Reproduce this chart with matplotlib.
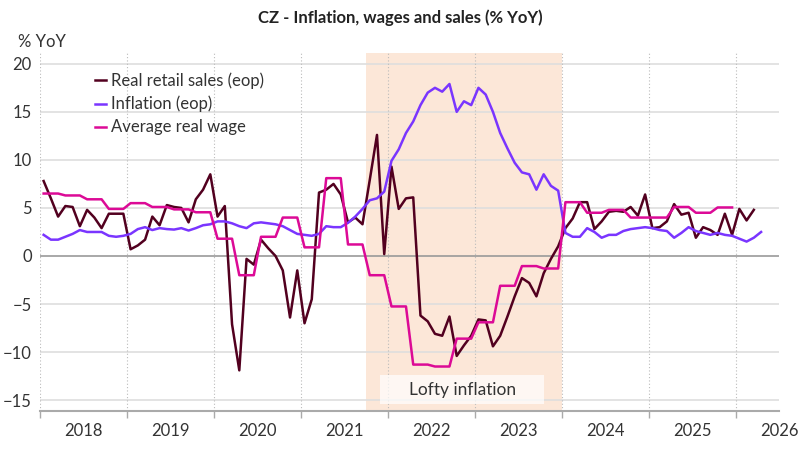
import matplotlib
matplotlib.use('Agg')
import matplotlib.pyplot as plt
from matplotlib.patches import Rectangle
import numpy as np

plt.rcParams['font.family'] = ['Lato', 'DejaVu Sans']

# monthly data, Jan 2018 onwards (% YoY)
retail_sales = [
    7.8, 6.0, 4.1, 5.2, 5.1, 3.1, 4.8, 4.0, 2.9, 4.4, 4.4, 4.4,          # 2018
    0.7, 1.1, 1.7, 4.1, 3.2, 5.3, 5.1, 5.0, 3.5, 5.9, 6.9, 8.5,          # 2019
    4.1, 5.2, -7.1, -11.9, -0.3, -0.9, 1.7, 0.8, 0.0, -1.5, -6.4, -1.5,  # 2020
    -7.0, -4.5, 6.6, 6.9, 7.5, 6.4, 3.5, 4.0, 3.3, 7.9, 12.6, 0.2,       # 2021
    9.3, 4.9, 6.0, 6.1, -6.2, -6.8, -8.1, -8.3, -6.3, -10.4, -9.3, -8.3,  # 2022
    -6.6, -6.7, -9.4, -8.3, -6.3, -4.2, -2.3, -2.8, -4.2, -1.8, -0.3, 1.0,  # 2023
    2.9, 3.9, 5.6, 5.6, 2.8, 3.6, 4.6, 4.7, 4.6, 5.1, 4.2, 6.4,          # 2024
    2.9, 3.0, 3.6, 5.4, 4.3, 4.5, 1.9, 3.0, 2.7, 2.2, 4.4, 2.2,          # 2025
    4.9, 3.7, 4.8,                                                       # 2026
]
inflation = [
    2.2, 1.7, 1.7, 2.0, 2.3, 2.7, 2.5, 2.5, 2.5, 2.1, 2.0, 2.1,
    2.3, 2.8, 3.0, 2.7, 2.9, 2.8, 2.75, 2.9, 2.65, 2.9, 3.2, 3.3,
    3.6, 3.6, 3.4, 3.1, 2.9, 3.4, 3.5, 3.4, 3.3, 3.1, 2.7, 2.3,
    2.2, 2.1, 2.3, 3.1, 3.0, 3.0, 3.45, 4.1, 4.9, 5.8, 6.0, 6.7,
    9.9, 11.1, 12.8, 14.0, 15.7, 17.0, 17.5, 17.1, 17.9, 15.0, 16.1, 15.7,
    17.5, 16.8, 15.0, 12.8, 11.2, 9.7, 8.7, 8.5, 6.9, 8.5, 7.3, 6.8,
    2.4, 2.0, 2.0, 2.9, 2.5, 1.9, 2.2, 2.2, 2.6, 2.8, 2.9, 3.0,
    2.9, 2.7, 2.6, 1.9, 2.4, 3.0, 2.6, 2.4, 2.2, 2.4, 2.2, 2.1,
    1.8, 1.5, 1.9, 2.5,
]
# quarterly, Q1 2018 onwards
real_wage_q = [
    6.5, 6.3, 5.9, 4.9,
    5.5, 5.1, 4.85, 4.55,
    1.8, -2.0, 2.0, 4.0,
    0.9, 8.1, 1.2, -2.0,
    -5.25, -11.3, -11.5, -8.6,
    -6.9, -3.1, -1.05, -1.3,
    5.6, 4.5, 4.8, 4.0,
    4.0, 5.1, 4.5, 5.05,
]
years = list(range(2018, 2027))

c_sales = '#52001f'
c_infl = '#7a35ff'
c_wage = '#dc0a96'


def month_pos(n):
    return 2018 + (np.arange(n) + 0.5) / 12


wage_m = np.repeat(real_wage_q, 3)

fig = plt.figure(figsize=(8, 4.5), dpi=100)
ax = fig.add_axes([0.05, 0.0873, 0.924, 0.7957])

# shaded period and its label box
ax.axvspan(2021.75, 2024.0, color='#fce7d8', zorder=0, lw=0)
ax.add_patch(Rectangle((2021.91, -15.4), 1.89, 3.0, fc='white', ec='none',
                       alpha=0.7, zorder=2))
ax.text(2022.86, -13.9, 'Lofty inflation', ha='center', va='center',
        fontsize=12.5, color='#333333', zorder=4)

for v in range(-15, 25, 5):
    ax.axhline(v, color='#999999' if v == 0 else '#dedede', lw=1.2, zorder=1)
for yr in years:
    ax.axvline(yr, color='#bbbbbb', lw=0.8, ls=(0, (1, 2)), zorder=1)

ax.plot(month_pos(len(retail_sales)), retail_sales, color=c_sales, lw=1.8,
        label='Real retail sales (eop)', zorder=3)
ax.plot(month_pos(len(inflation)), inflation, color=c_infl, lw=1.8,
        label='Inflation (eop)', zorder=3)
ax.plot(month_pos(len(wage_m)), wage_m, color=c_wage, lw=1.8,
        label='Average real wage', zorder=3)

ax.set_xlim(2018, 2026.5)
ax.set_ylim(-16.1, 21.16)

ax.set_yticks(range(-15, 25, 5))
ax.tick_params(axis='y', length=0, pad=6, labelsize=12, labelcolor='#333333')
ax.set_xticks(years)
ax.set_xticklabels([])
ax.set_xticks([y + 0.5 for y in years], minor=True)
ax.set_xticklabels([str(y) for y in years], minor=True)
ax.tick_params(axis='x', which='major', length=5, color='#aaaaaa', width=1)
ax.tick_params(axis='x', which='minor', length=0, pad=9, labelsize=12,
               labelcolor='#333333')

for s in ['top', 'right', 'left']:
    ax.spines[s].set_visible(False)
ax.spines['bottom'].set_color('#aaaaaa')
ax.spines['bottom'].set_linewidth(1.5)

leg = ax.legend(loc='upper left', bbox_to_anchor=(0.074, 0.945),
                frameon=False, fontsize=12, handlelength=0.7,
                handletextpad=0.25, labelspacing=0.42, borderaxespad=0,
                borderpad=0)
for t in leg.get_texts():
    t.set_color('#333333')

fig.text(0.5, 0.96, 'CZ - Inflation, wages and sales (% YoY)', ha='center',
         va='center', fontsize=12, fontweight='bold', color='#222222')
fig.text(0.022, 0.907, '% YoY', ha='left', va='center', fontsize=12,
         color='#333333')

fig.savefig('out.png', dpi=100)
